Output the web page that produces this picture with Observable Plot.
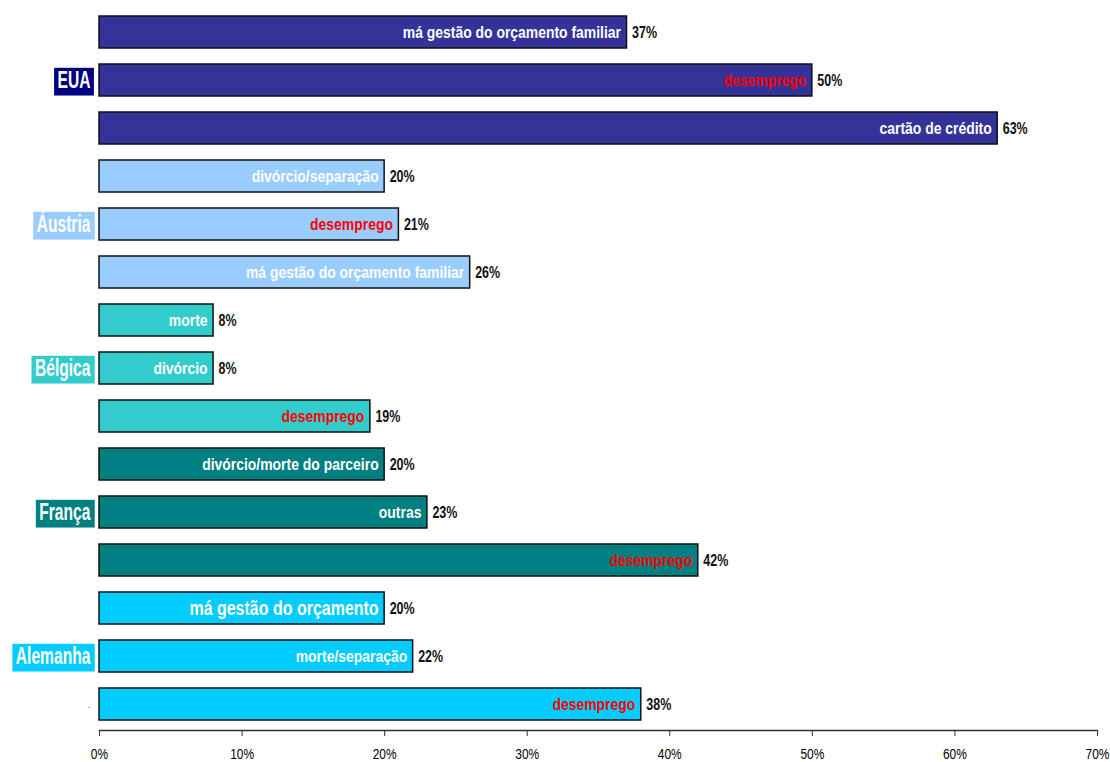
<!DOCTYPE html>
<html><head><meta charset="utf-8">
<script src="https://cdn.jsdelivr.net/npm/d3@7"></script>
<script src="https://cdn.jsdelivr.net/npm/@observablehq/plot@0.6"></script>
<style>body{margin:0;background:#fff} svg{display:block}</style>
</head><body><div id="chart"></div>
<script>
// ---- data ----
const countries = ["EUA", "Áustria", "Bélgica", "França", "Alemanha"];
const barCountry = ["EUA","EUA","EUA","Áustria","Áustria","Áustria","Bélgica","Bélgica","Bélgica","França","França","França","Alemanha","Alemanha","Alemanha"];
const causes = ["má gestão do orçamento familiar","desemprego","cartão de crédito",
  "divórcio/separação","desemprego","má gestão do orçamento familiar",
  "morte","divórcio","desemprego",
  "divórcio/morte do parceiro","outras","desemprego",
  "má gestão do orçamento","morte/separação","desemprego"];
const values = [37,50,63, 20,21,26, 8,8,19, 20,23,42, 20,22,38];
const xTicks = [0,10,20,30,40,50,60,70];

// ---- styles ----
const barColors = {"EUA":"#333399","Áustria":"#99CCFF","Bélgica":"#33CCCC","França":"#008080","Alemanha":"#00CCFF"};
const boxColors = {"EUA":"#000080","Áustria":"#99CCFF","Bélgica":"#33CCCC","França":"#008080","Alemanha":"#00CCFF"};
const FONT = '"Liberation Sans", Arial, sans-serif';

const rows = values.map((v, i) => ({i, country: barCountry[i], cause: causes[i], value: v}));
const countryRows = countries.map(c => {
  const idx = rows.filter(r => r.country === c).map(r => r.i);
  return {country: c, i: idx[1]};
});
const labelSize = r => (r.i === 12 ? 19.5 : 17);

const plot = Plot.plot({
  width: 1110,
  height: 762,
  marginLeft: 99,
  marginRight: 13,
  marginTop: 6,
  marginBottom: 32,
  style: {fontFamily: FONT, background: "#fff"},
  x: {domain: [0, 70], ticks: xTicks, tickFormat: d => d + "%"},
  y: {domain: rows.map(r => r.i), paddingInner: 0.333, paddingOuter: 0.2, axis: null},
  marks: [
    Plot.barX(rows, {x: "value", y: "i", fill: d => barColors[d.country], stroke: "#111", strokeWidth: 1.5}),
    Plot.text(rows, {x: "value", y: "i", text: "cause", textAnchor: "end", dx: -6,
      fill: d => d.cause === "desemprego" ? "#FF0000" : "#FFFFFF",
      fontWeight: "bold", fontSize: labelSize, className: "cond-82"}),
    Plot.text(rows, {x: "value", y: "i", text: d => d.value + "%", textAnchor: "start", dx: 5,
      fill: "#111", fontWeight: "bold", fontSize: 16, className: "cond-78"}),
    Plot.text(countryRows, {y: "i", text: "country", frameAnchor: "left", textAnchor: "end", dx: -9,
      fill: "#FFFFFF", fontWeight: "bold", fontSize: 23, className: "country-label"}),
    Plot.text(rows.filter(r => r.i === 14), {y: "i", text: () => ".", frameAnchor: "left", dx: -12, fill: "#666", fontSize: 10}),
    Plot.frame({anchor: "bottom", stroke: "#333", strokeWidth: 1.5}),
    Plot.axisX({ticks: xTicks, tickFormat: d => d + "%", tickSize: 6, tickPadding: 11, fontSize: 15.5, label: null, stroke: "#333", className: "cond-75"})
  ]
});
document.getElementById("chart").appendChild(plot);

const svg = d3.select(plot);
// condensed look: horizontal squeeze of each text around its anchor
function squeeze(sel, s) {
  svg.selectAll(sel).each(function() {
    const tr = this.getAttribute("transform") || "";
    this.setAttribute("transform", tr + ` scale(${s},1)`);
  });
}
squeeze("g.cond-82 text", 0.82);
squeeze("g.cond-78 text", 0.78);
squeeze("g.cond-75 text", 0.77);
squeeze("g.country-label text", 0.68);

// coloured boxes behind country labels
svg.selectAll("g.country-label text").each(function(d, k) {
  const t = this;
  const bb = t.getBBox();
  const c = countryRows[k].country;
  d3.select(t.parentNode).insert("rect", () => t)
    .attr("x", bb.x - 5).attr("y", bb.y + 1)
    .attr("width", bb.width + 10).attr("height", bb.height + 2)
    .attr("transform", t.getAttribute("transform"))
    .attr("fill", boxColors[c]);
});
</script>
</body></html>
